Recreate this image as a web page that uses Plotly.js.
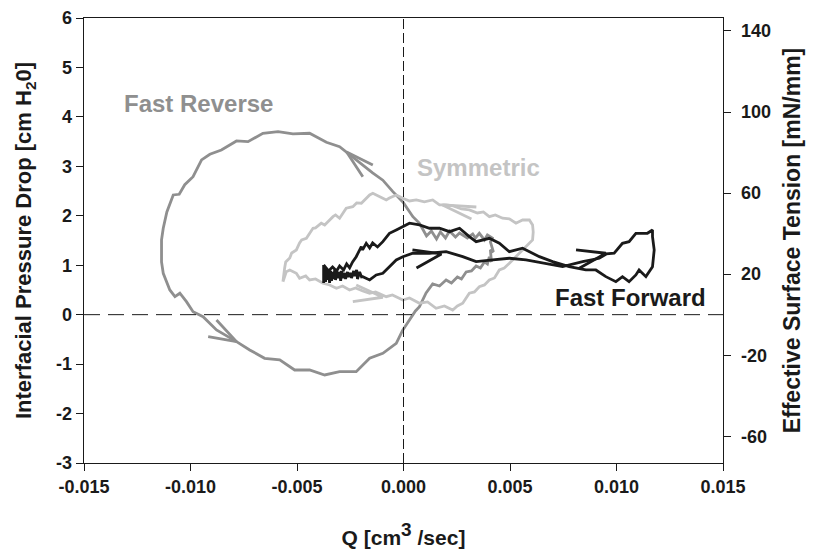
<!DOCTYPE html>
<html>
<head>
<meta charset="utf-8">
<script src="https://cdn.plot.ly/plotly-3.0.1.min.js"></script>
<style>html,body{margin:0;padding:0;background:#fff;}#chart{width:813px;height:552px;}</style>
</head>
<body>
<div id="chart"></div>
<script>
// ---- Data ----
// Fast Reverse loop (Q in cm^3/sec, pressure drop in cm H2O)
var revX = [-0.00003,0.00028,0.00056,0.00075,0.00106,0.00137,0.00169,0.00200,0.00225,0.00253,
  0.00272,0.00294,0.00319,0.00341,0.00361,0.00380,0.00394,0.00403,0.00413,0.00408,
  0.00422,0.00408,0.00417,0.00394,0.00380,0.00356,0.00338,0.00325,0.00300,0.00263,
  0.00244,0.00216,0.00197,0.00173,0.00155,0.00131,0.00108,0.00090,0.00075,0.00044,
  -0.00003,-0.00050,-0.00097,-0.00145,-0.00192,-0.00238,-0.00300,-0.00362,-0.00441,-0.00519,
  -0.00589,-0.00660,-0.00730,-0.00784,-0.00855,-0.00909,-0.00948,-0.00988,-0.01027,-0.01053,
  -0.01081,-0.01111,-0.01128,-0.01136,-0.01136,-0.01136,-0.01128,-0.01097,-0.01073,-0.01050,
  -0.01019,-0.00988,-0.00941,-0.00878,-0.00784,-0.00722,-0.00652,-0.00581,-0.00511,-0.00441,
  -0.00370,-0.00300,-0.00222,-0.00159,-0.00097,-0.00034,-0.00003];
var revY = [-0.309,-0.107,0.075,0.162,0.439,0.621,0.580,0.702,0.641,0.763,
  0.722,0.864,0.884,0.985,0.945,1.066,1.025,1.167,1.066,1.309,
  1.268,1.470,1.551,1.612,1.511,1.646,1.551,1.632,1.551,1.652,
  1.571,1.693,1.551,1.673,1.531,1.693,1.592,1.733,1.849,1.982,
  2.280,2.488,2.720,2.866,3.028,3.170,3.398,3.487,3.669,3.655,
  3.701,3.669,3.499,3.513,3.331,3.244,3.129,2.791,2.628,2.435,
  2.421,2.077,1.748,1.511,1.208,1.066,0.837,0.500,0.364,0.433,
  0.263,0.061,-0.040,-0.309,-0.546,-0.714,-0.882,-0.916,-1.119,-1.119,
  -1.220,-1.153,-1.153,-0.882,-0.781,-0.578,-0.309];
var revArrowTopX = [-0.00144,-0.00267,-0.00191];
var revArrowTopY = [3.028,3.291,2.791];
var revArrowBotX = [-0.00917,-0.00784,-0.00878];
var revArrowBotY = [-0.445,-0.546,-0.107];

// Symmetric loop
var symX = [-0.00566,-0.00550,-0.00534,-0.00503,-0.00488,-0.00459,-0.00441,-0.00413,-0.00378,-0.00347,
  -0.00315,-0.00286,-0.00253,-0.00225,-0.00191,-0.00159,-0.00131,-0.00081,-0.00052,-0.00003,
  0.00028,0.00075,0.00113,0.00153,0.00192,0.00231,0.00253,0.00278,0.00309,0.00333,
  0.00356,0.00380,0.00403,0.00427,0.00450,0.00473,0.00497,0.00528,0.00553,0.00575,
  0.00606,0.00609,0.00606,0.00591,0.00559,0.00528,0.00497,0.00465,0.00431,0.00403,
  0.00375,0.00347,0.00309,0.00272,0.00234,0.00200,0.00169,0.00137,0.00098,0.00060,
  0.00028,-0.00003,-0.00034,-0.00066,-0.00081,-0.00097,-0.00122,-0.00144,-0.00159,-0.00183,
  -0.00198,-0.00220,-0.00238,-0.00269,-0.00286,-0.00300,-0.00319,-0.00331,-0.00356,-0.00370,
  -0.00386,-0.00413,-0.00425,-0.00445,-0.00456,-0.00478,-0.00488,-0.00503,-0.00525,-0.00534,
  -0.00553,-0.00558,-0.00566];
var symY = [0.667,0.870,0.904,0.837,0.736,0.783,0.702,0.722,0.635,0.601,
  0.534,0.580,0.499,0.540,0.479,0.433,0.459,0.364,0.398,0.297,
  0.338,0.231,0.257,0.129,0.176,0.095,0.176,0.231,0.433,0.459,
  0.566,0.601,0.702,0.742,0.904,0.945,1.040,1.173,1.268,1.375,
  1.511,1.673,1.814,1.915,1.915,1.849,1.936,1.950,2.017,1.982,
  2.077,2.057,2.118,2.138,2.199,2.219,2.219,2.320,2.280,2.320,
  2.300,2.354,2.421,2.360,2.320,2.354,2.401,2.455,2.421,2.320,
  2.253,2.259,2.184,2.152,2.037,1.950,2.017,1.982,1.875,1.814,
  1.849,1.754,1.748,1.612,1.545,1.511,1.450,1.309,1.248,1.147,
  1.066,0.945,0.667];
var symArrowBotX = [-0.00222,-0.00097,-0.00238];
var symArrowBotY = [0.601,0.352,0.263];
var symArrowTopX = [0.00342,0.00183,0.00319];
var symArrowTopY = [2.178,2.219,1.936];

// Fast Forward loop
var fwdX = [-0.00375,-0.00375,-0.00370,-0.00366,-0.00361,-0.00356,-0.00352,-0.00347,-0.00342,-0.00338,
  -0.00333,-0.00328,-0.00323,-0.00319,-0.00314,-0.00309,-0.00300,-0.00295,-0.00291,-0.00286,
  -0.00277,-0.00272,-0.00263,-0.00258,-0.00248,-0.00244,-0.00234,-0.00230,-0.00220,-0.00216,
  -0.00206,-0.00197,-0.00191,-0.00159,-0.00128,-0.00097,-0.00066,-0.00034,-0.00003,0.00044,
  0.00122,0.00200,0.00278,0.00341,0.00419,0.00497,0.00575,0.00669,0.00747,0.00841,
  0.00919,0.00952,0.00989,0.01028,0.01059,0.01091,0.01145,0.01169,0.01169,0.01177,
  0.01169,0.01138,0.01106,0.01091,0.01059,0.01028,0.00997,0.00950,0.00903,0.00856,
  0.00778,0.00700,0.00638,0.00559,0.00497,0.00450,0.00403,0.00341,0.00309,0.00263,
  0.00216,0.00169,0.00122,0.00075,0.00028,-0.00034,-0.00066,-0.00097,-0.00122,-0.00145,
  -0.00159,-0.00175,-0.00192,-0.00198,-0.00216,-0.00222,-0.00239,-0.00253,-0.00267,-0.00281,
  -0.00300,-0.00314,-0.00333,-0.00352,-0.00375];
var fwdY = [1.005,0.641,0.965,0.661,0.945,0.702,0.904,0.641,0.884,0.682,
  0.864,0.722,0.904,0.702,0.884,0.742,0.864,0.682,0.884,0.742,
  0.843,0.722,0.864,0.763,0.843,0.742,0.884,0.783,0.904,0.722,
  0.864,0.763,0.769,0.702,0.803,0.837,0.971,1.106,1.173,1.242,
  1.242,1.274,1.173,1.072,1.106,1.141,1.106,1.040,0.971,1.072,
  1.141,1.228,1.242,1.444,1.477,1.646,1.646,1.713,1.578,1.309,
  0.971,0.769,0.904,0.803,0.667,0.769,0.667,0.769,0.904,0.904,
  0.971,1.072,1.173,1.343,1.274,1.444,1.545,1.477,1.578,1.748,
  1.679,1.748,1.748,1.814,1.849,1.713,1.646,1.477,1.369,1.450,
  1.349,1.444,1.309,1.375,1.208,1.173,1.066,0.945,1.025,0.904,
  0.985,0.884,0.965,0.884,1.005];
var fwdArrowMidX = [0.00042,0.00178,0.00061];
var fwdArrowMidY = [1.309,1.228,0.945];
var fwdArrowEndX = [0.00810,0.00950,0.00825];
var fwdArrowEndY = [1.309,1.242,0.939];

// Axis ticks and their labels
var xTicks = [-0.015,-0.010,-0.005,0.000,0.005,0.010,0.015];
var xTickLabels = ['-0.015','-0.010','-0.005','0.000','0.005','0.010','0.015'];
var yTicks = [-3,-2,-1,0,1,2,3,4,5,6];
var yTickLabels = ['-3','-2','-1','0','1','2','3','4','5','6'];
var y2Ticks = [-60,-20,20,60,100,140];
var y2TickLabels = ['-60','-20','20','60','100','140'];

var cRev = '#8f8f8f', cSym = '#c4c4c4', cFwd = '#1a1a1a';
function tr(x, y, color, w) {
  return {x: x, y: y, mode: 'lines', type: 'scatter', hoverinfo: 'skip', showlegend: false,
          line: {color: color, width: w}};
}
var LW = 2.8;
var traces = [
  tr(revX, revY, cRev, LW), tr(revArrowTopX, revArrowTopY, cRev, LW), tr(revArrowBotX, revArrowBotY, cRev, LW),
  tr(symX, symY, cSym, LW), tr(symArrowBotX, symArrowBotY, cSym, LW), tr(symArrowTopX, symArrowTopY, cSym, LW),
  tr(fwdX, fwdY, cFwd, LW), tr(fwdArrowMidX, fwdArrowMidY, cFwd, LW), tr(fwdArrowEndX, fwdArrowEndY, cFwd, LW)
];

var FAM = 'Liberation Sans, Arial, sans-serif';
var tickFont = {family: FAM, size: 18, color: '#1a1a1a', weight: 'bold'};

var layout = {
  width: 813, height: 552,
  margin: {l: 84, r: 90, t: 18, b: 89},
  paper_bgcolor: '#fff', plot_bgcolor: '#fff',
  xaxis: {range: [-0.015, 0.015], tickvals: xTicks, ticktext: xTickLabels,
    showgrid: false, zeroline: false, showline: true, mirror: true, linecolor: '#1a1a1a', linewidth: 1.3,
    ticks: 'outside', ticklen: 7, tickcolor: '#1a1a1a', tickfont: tickFont,
    title: {text: 'Q [cm<sup><span style="font-size:19px">3</span></sup> /sec]', font: {family: FAM, size: 21, color: '#1a1a1a', weight: 'bold'}, standoff: 34}},
  yaxis: {range: [-3, 6], tickvals: yTicks, ticktext: yTickLabels,
    showgrid: false, zeroline: false, showline: true, linecolor: '#1a1a1a', linewidth: 1.3,
    ticks: 'outside', ticklen: 7, tickcolor: '#1a1a1a', tickfont: tickFont,
    title: {text: 'Interfacial Pressure Drop [cm H<sub>2</sub>0]', font: {family: FAM, size: 22, color: '#1a1a1a', weight: 'bold'}, standoff: 18}},
  yaxis2: {overlaying: 'y', side: 'right', range: [-73.2, 146.4], tickvals: y2Ticks, ticktext: y2TickLabels,
    showgrid: false, zeroline: false, showline: true, linecolor: '#1a1a1a', linewidth: 1.3,
    ticks: 'outside', ticklen: 7, tickcolor: '#1a1a1a', tickfont: tickFont, ticklabelstandoff: 6,
    title: {text: 'Effective Surface Tension [mN/mm]', font: {family: FAM, size: 23, color: '#1a1a1a', weight: 'bold'}, standoff: 14}},
  shapes: [
    {type: 'line', xref: 'x', yref: 'paper', x0: 0, x1: 0, y0: 0, y1: 1,
     line: {color: '#1a1a1a', width: 1, dash: '10px,4px'}},
    {type: 'line', xref: 'paper', yref: 'y', x0: 0, x1: 1, y0: 0, y1: 0,
     line: {color: '#1a1a1a', width: 1, dash: '16px,8px'}}
  ],
  annotations: [
    {x: -0.00961, y: 4.28, xref: 'x', yref: 'y', text: 'Fast Reverse', showarrow: false,
     font: {family: FAM, size: 24, color: cRev, weight: 'bold'}},
    {x: 0.00352, y: 2.967, xref: 'x', yref: 'y', text: 'Symmetric', showarrow: false,
     font: {family: FAM, size: 24, color: cSym, weight: 'bold'}},
    {x: 0.01064, y: 0.338, xref: 'x', yref: 'y', text: 'Fast Forward', showarrow: false,
     font: {family: FAM, size: 24, color: cFwd, weight: 'bold'}}
  ]
};
// empty trace bound to the right axis so that axis is drawn
traces.push({x: [], y: [], yaxis: 'y2', type: 'scatter', mode: 'lines', showlegend: false, hoverinfo: 'skip'});

Plotly.newPlot('chart', traces, layout, {staticPlot: true, displayModeBar: false});
</script>
</body>
</html>
